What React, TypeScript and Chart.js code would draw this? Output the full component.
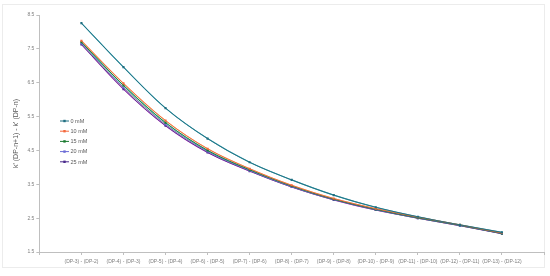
import React, { useEffect, useRef } from "react";
import { Chart, registerables } from "chart.js";

Chart.register(...registerables);

const categories = [
  "(DP-3) - (DP-2)",
  "(DP-4) - (DP-3)",
  "(DP-5) - (DP-4)",
  "(DP-6) - (DP-5)",
  "(DP-7) - (DP-6)",
  "(DP-8) - (DP-7)",
  "(DP-9) - (DP-8)",
  "(DP-10) - (DP-9)",
  "(DP-11) - (DP-10)",
  "(DP-12) - (DP-11)",
  "(DP-13) - (DP-12)",
];

const seriesNames = ["0 mM", "10 mM", "15 mM", "20 mM", "25 mM"];
const mM0 = [8.26, 6.96, 5.75, 4.85, 4.15, 3.63, 3.18, 2.82, 2.54, 2.3, 2.08];
const mM10 = [7.74, 6.48, 5.38, 4.55, 3.96, 3.47, 3.08, 2.78, 2.53, 2.3, 2.06];
const mM15 = [7.7, 6.42, 5.32, 4.5, 3.93, 3.45, 3.06, 2.76, 2.51, 2.29, 2.05];
const mM20 = [7.66, 6.36, 5.27, 4.47, 3.91, 3.43, 3.05, 2.75, 2.5, 2.28, 2.05];
const mM25 = [7.63, 6.31, 5.23, 4.44, 3.89, 3.42, 3.04, 2.74, 2.5, 2.28, 2.04];
const yTicks = [1.5, 2.5, 3.5, 4.5, 5.5, 6.5, 7.5, 8.5];

const seriesValues = [mM0, mM10, mM15, mM20, mM25];
const seriesColors = ["#1f6e80", "#f4683c", "#1a7a30", "#6b6bd6", "#4a2a8c"];
const trendColors = ["#3aa0b0", "#f5b070", "#40c8c8", "#cbd672", "#e058d8"];

const pad = (arr: (number | null)[]) => [null, ...arr, null];

const legendPlugin = {
  id: "insideLegend",
  afterDraw(chart: any) {
    const ctx = chart.ctx;
    ctx.save();
    ctx.font = "5.5px 'Liberation Sans', Arial, sans-serif";
    ctx.textBaseline = "middle";
    seriesNames.forEach((name, i) => {
      const y = 121 + i * 10.2;
      ctx.strokeStyle = seriesColors[i];
      ctx.lineWidth = 1;
      ctx.beginPath();
      ctx.moveTo(60, y);
      ctx.lineTo(69, y);
      ctx.stroke();
      ctx.fillStyle = seriesColors[i];
      ctx.fillRect(63.3, y - 1.2, 2.4, 2.4);
      ctx.fillStyle = "#595959";
      ctx.fillText(name, 70.5, y + 0.3);
    });
    ctx.restore();
  },
};

export default function App() {
  const ref = useRef<HTMLCanvasElement | null>(null);
  useEffect(() => {
    if (!ref.current) return;
    const labels = ["", ...categories, ""];
    const main = seriesNames.map((name, i) => ({
      label: name,
      data: pad(seriesValues[i]),
      borderColor: seriesColors[i],
      backgroundColor: seriesColors[i],
      borderWidth: 0.9,
      pointRadius: 1.5,
      pointStyle: "rect",
      pointBorderWidth: 0,
      cubicInterpolationMode: "monotone" as const,
      order: 1,
    }));
    const trends = seriesNames.map((name, i) => ({
      label: name + " trend",
      data: pad(seriesValues[i]),
      borderColor: trendColors[i],
      backgroundColor: trendColors[i],
      borderWidth: 1.1,
      pointRadius: 0,
      cubicInterpolationMode: "monotone" as const,
      order: 2,
    }));
    const chart = new Chart(ref.current, {
      type: "line",
      data: { labels, datasets: [...main, ...trends] as any },
      options: {
        responsive: false,
        animation: false,
        layout: { padding: { left: 12, right: 6, top: 15, bottom: 7 } },
        plugins: { legend: { display: false }, tooltip: { enabled: false } },
        scales: {
          x: {
            type: "category",
            offset: false,
            grid: { display: true, drawOnChartArea: false, drawTicks: true, tickLength: 3, color: "#bfbfbf" },
            border: { display: true, color: "#bfbfbf" },
            ticks: {
              autoSkip: false,
              maxRotation: 0,
              minRotation: 0,
              padding: 4,
              color: "#7f7f7f",
              font: { size: 5, family: "'Liberation Sans', Arial, sans-serif" },
            },
          },
          y: {
            min: 1.5,
            max: 8.5,
            afterBuildTicks: (axis: any) => {
              axis.ticks = yTicks.map((v) => ({ value: v }));
            },
            grid: { display: true, drawOnChartArea: false, drawTicks: true, tickLength: 3, color: "#bfbfbf" },
            border: { display: true, color: "#bfbfbf" },
            ticks: {
              padding: 2,
              color: "#7f7f7f",
              font: { size: 5, family: "'Liberation Sans', Arial, sans-serif" },
              callback: (v: any) => Number(v).toFixed(1),
            },
            title: {
              display: true,
              text: "k' (DP-n+1) - k' (DP-n)",
              color: "#595959",
              font: { size: 7, family: "'Liberation Sans', Arial, sans-serif" },
              padding: { top: 0, bottom: 5 },
            },
          },
        },
      },
      plugins: [legendPlugin],
    });
    return () => chart.destroy();
  }, []);
  return (
    <div style={{ position: "fixed", left: 0, top: 0, width: 550, height: 276, background: "#fff" }}>
      <div
        style={{
          position: "absolute",
          left: 2,
          top: 4,
          width: 543,
          height: 264,
          border: "1px solid #ececec",
          boxSizing: "border-box",
        }}
      />
      <canvas ref={ref} width={550} height={276} style={{ position: "absolute", left: 0, top: 0 }} />
    </div>
  );
}
